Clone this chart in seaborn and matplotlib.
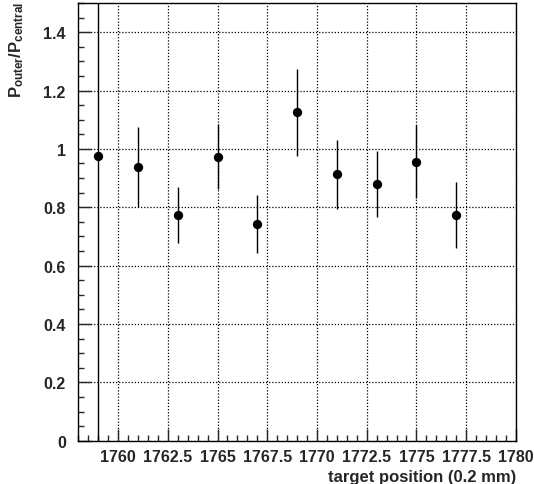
import numpy as np
import pandas as pd
import matplotlib
matplotlib.use("Agg")
import matplotlib.pyplot as plt
from matplotlib.ticker import MultipleLocator, FuncFormatter
import seaborn as sns

# ---- data ----
positions = [1759, 1761, 1763, 1765, 1767, 1769, 1771, 1773, 1775, 1777]
ratio = [0.975, 0.938, 0.774, 0.973, 0.743, 1.126, 0.913, 0.879, 0.954, 0.774]
err_low = [1.2, 0.136, 0.097, 0.111, 0.100, 0.149, 0.119, 0.113, 0.122, 0.114]
err_high = [1.2, 0.137, 0.096, 0.113, 0.099, 0.148, 0.119, 0.113, 0.128, 0.113]
x_ticks = [1760, 1762.5, 1765, 1767.5, 1770, 1772.5, 1775, 1777.5, 1780]
y_ticks = [0, 0.2, 0.4, 0.6, 0.8, 1.0, 1.2, 1.4]

df = pd.DataFrame({"pos": positions, "ratio": ratio})

sns.set_style("white")
plt.rcParams["font.family"] = ["Liberation Sans", "DejaVu Sans"]
plt.rcParams["font.weight"] = "bold"
plt.rcParams["mathtext.fontset"] = "custom"
plt.rcParams["mathtext.rm"] = "Liberation Sans:bold"
plt.rcParams["mathtext.it"] = "Liberation Sans:bold"
plt.rcParams["mathtext.bf"] = "Liberation Sans:bold"

fig = plt.figure(figsize=(5.34, 4.85), dpi=100)
ax = fig.add_axes([0.1467, 0.0893, 0.966 - 0.1467, 0.9918 - 0.0893])

ax.errorbar(df["pos"], df["ratio"], yerr=[err_low, err_high], fmt="none",
            ecolor="black", elinewidth=1.0, capsize=0, zorder=3)
sns.scatterplot(data=df, x="pos", y="ratio", ax=ax, color="black", s=45,
                edgecolor="black", linewidth=0, zorder=4)

ax.set_xlim(1758, 1780)
ax.set_ylim(0, 1.5)
ax.set_xticks(x_ticks)
ax.set_yticks(y_ticks)
ax.xaxis.set_minor_locator(MultipleLocator(0.5))
ax.yaxis.set_minor_locator(MultipleLocator(0.05))

def fmt(v, pos):
    return "%g" % v
ax.xaxis.set_major_formatter(FuncFormatter(fmt))
ax.yaxis.set_major_formatter(FuncFormatter(fmt))

ax.tick_params(axis="both", which="major", direction="in", length=9, width=1,
               labelsize=11.5, top=False, right=False, bottom=True, left=True)
ax.tick_params(axis="x", which="major", pad=6)
ax.tick_params(axis="y", which="major", pad=9)
ax.tick_params(axis="both", which="minor", direction="in", length=4, width=1,
               top=False, right=False, bottom=True, left=True)
for lbl in ax.get_xticklabels() + ax.get_yticklabels():
    lbl.set_fontweight("bold")

ax.grid(True, which="major", color="black", linestyle=(0, (1, 1.5)), linewidth=0.9)
for sp in ax.spines.values():
    sp.set_color("black")
    sp.set_linewidth(1.0)

ax.set_xlabel("target position (0.2 mm)", fontsize=12, fontweight="bold")
ax.xaxis.set_label_coords(1.0, -0.081)
ax.xaxis.label.set_ha("right")
ax.xaxis.label.set_va("center")
ax.set_ylabel(r"P$_{\mathrm{outer}}$/P$_{\mathrm{central}}$", fontsize=12,
              fontweight="bold")
ax.yaxis.set_label_coords(-0.142, 1.005)
ax.yaxis.label.set_ha("right")
ax.yaxis.label.set_va("center")

fig.savefig("out.png", dpi=100)
